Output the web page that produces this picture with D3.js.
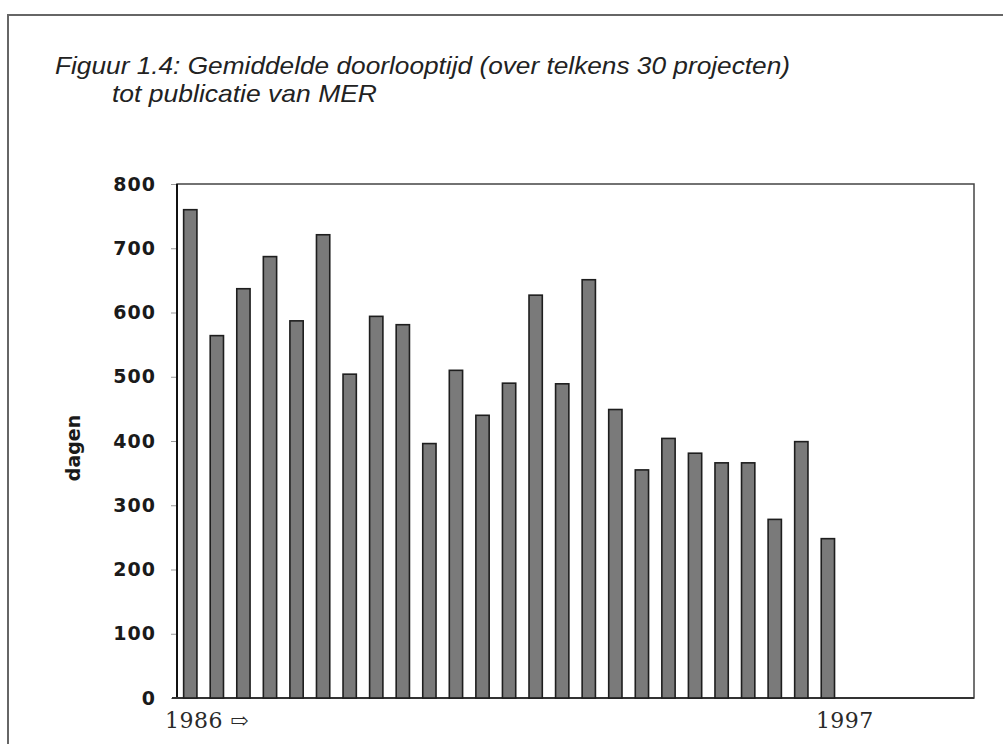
<!DOCTYPE html>
<html>

<head>
  <meta charset="utf-8">
  <title>Figuur 1.4</title>
  <script src="https://d3js.org/d3.v7.min.js"></script>
  <style>
    body {
      margin: 0;
      background: #fff;
      font-family: 'Liberation Sans', Arial, sans-serif;
    }

    .yAxis text {
      font-family: 'DejaVu Sans', sans-serif;
      font-weight: bold;
      font-size: 19px;
      letter-spacing: 1px;
      fill: #1a1a1a;
    }

    .yAxis line {
      stroke: #999;
    }
  </style>
</head>

<body>

  <svg id="chart" width="1003" height="744"></svg>

  <script>
    // ====
    // DATA
    // ====
    // 30 slots on the x axis, only the first 25 have a bar
    const slots = d3.range(1, 31);
    const dagen = [760, 564, 637, 687, 587, 721, 504, 594, 581, 396, 510, 440, 490,
      627, 489, 651, 449, 355, 404, 381, 366, 366, 278, 399, 248];
    const yTicks = [0, 100, 200, 300, 400, 500, 600, 700, 800];
    const xTickLabels = ["1986 \u21E8", "1997"];
    const xTickSlots = [1, 25];
    const titleLines = ["Figuur 1.4: Gemiddelde doorlooptijd (over telkens 30 projecten)",
      "tot publicatie van MER"];

    // ----------
    // DIMENSIONS
    // ----------
    const svg = d3.select("svg#chart");
    const margin = { top: 184, right: 29, bottom: 46, left: 177 };
    const chartWidth = svg.attr("width") - margin.left - margin.right;
    const chartHeight = svg.attr("height") - margin.top - margin.bottom;

    // page frame (top and left edge of the scanned box)
    svg.append("path")
      .attr("d", "M8,744 V15 H1003")
      .attr("fill", "none")
      .attr("stroke", "#666")
      .attr("stroke-width", 2);

    // title
    svg.append("text")
      .attr("x", 55).attr("y", 74)
      .attr("font-size", "24px")
      .attr("font-style", "italic")
      .attr("fill", "#222")
      .attr("textLength", 735)
      .attr("lengthAdjust", "spacingAndGlyphs")
      .text(titleLines[0]);
    svg.append("text")
      .attr("x", 112).attr("y", 102)
      .attr("font-size", "24px")
      .attr("font-style", "italic")
      .attr("fill", "#222")
      .attr("textLength", 265)
      .attr("lengthAdjust", "spacingAndGlyphs")
      .text(titleLines[1]);

    const chartArea = svg.append("g")
      .attr("transform", `translate(${margin.left},${margin.top})`);

    // ======
    // SCALES
    // ======
    const xScale = d3.scaleBand()
      .domain(slots)
      .range([0, chartWidth])
      .paddingInner(0.5)
      .paddingOuter(0.25);

    const yScale = d3.scaleLinear()
      .domain([0, 800])
      .range([chartHeight, 0]);

    // ======
    //  AXES
    // ======
    chartArea.append("g")
      .attr("class", "yAxis")
      .call(d3.axisLeft(yScale).tickValues(yTicks).tickSize(6).tickPadding(15))
      .call(g => g.select(".domain").remove());

    // plot frame
    chartArea.append("rect")
      .attr("x", 0).attr("y", 0)
      .attr("width", chartWidth).attr("height", chartHeight)
      .attr("fill", "none")
      .attr("stroke", "#444")
      .attr("stroke-width", 1.5);

    // heavier left and bottom axis lines
    chartArea.append("line")
      .attr("x1", 0).attr("x2", 0)
      .attr("y1", 0).attr("y2", chartHeight)
      .attr("stroke", "#111").attr("stroke-width", 2);
    chartArea.append("line")
      .attr("x1", -5).attr("x2", chartWidth)
      .attr("y1", chartHeight).attr("y2", chartHeight)
      .attr("stroke", "#333").attr("stroke-width", 2);

    // y label
    svg.append("text")
      .attr("transform", `translate(80,448) rotate(-90)`)
      .attr("text-anchor", "middle")
      .attr("font-family", "'DejaVu Sans', sans-serif")
      .attr("font-weight", "bold")
      .attr("font-size", "19px")
      .attr("fill", "#1a1a1a")
      .text("dagen");

    // x labels
    chartArea.selectAll("text.xLabel")
      .data(xTickLabels)
      .join("text").attr("class", "xLabel")
      .attr("x", (d, i) => xScale(xTickSlots[i]) + xScale.bandwidth() / 2 + 17)
      .attr("y", chartHeight + 30)
      .attr("text-anchor", "middle")
      .attr("font-family", "'DejaVu Serif', serif")
      .attr("font-size", "22px")
      .attr("letter-spacing", "0.5px")
      .attr("fill", "#2a2a2a")
      .text(d => d);

    // ======
    //  BARS
    // ======
    chartArea.selectAll("rect.bar")
      .data(dagen)
      .join("rect").attr("class", "bar")
      .attr("x", (d, i) => xScale(slots[i]))
      .attr("width", xScale.bandwidth())
      .attr("y", d => yScale(d))
      .attr("height", d => yScale(0) - yScale(d))
      .attr("fill", "#7a7a7a")
      .attr("stroke", "#1e1e1e")
      .attr("stroke-width", 1.6);
  </script>

</body>

</html>
